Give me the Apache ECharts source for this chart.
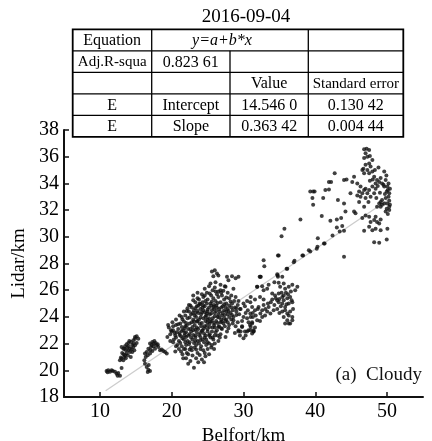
<!DOCTYPE html>
<html><head><meta charset="utf-8">
<script src="https://cdn.jsdelivr.net/npm/echarts@6/dist/echarts.min.js"></script>
<style>html,body{margin:0;padding:0;background:#fff}#c{width:432px;height:441px}</style>
</head><body><div id="c"></div><script>
const titleText = '2016-09-04';
const xName = 'Belfort/km';
const yName = 'Lidar/km';
const panelLabel = '(a)  Cloudy';
const xTicks = [10, 20, 30, 40, 50];
const yTicks = [18, 20, 22, 24, 26, 28, 30, 32, 34, 36, 38];
const fitIntercept = 14.5460;
const fitSlope = 0.36342;
const fitXRange = [10.8, 50.2];

// table cells: [text, colStart, colEnd, italic]
const tableRows = [
  [['Equation', 0, 1], ['y=a+b*x', 1, 3, true], ['', 3, 4]],
  [['Adj.R-squa', 0, 1], ['0.823 61', 1, 2], ['', 2, 3], ['', 3, 4]],
  [['', 0, 1], ['', 1, 2], ['Value', 2, 3], ['Standard error', 3, 4]],
  [['E', 0, 1], ['Intercept', 1, 2], ['14.546 0', 2, 3], ['0.130 42', 3, 4]],
  [['E', 0, 1], ['Slope', 1, 2], ['0.363 42', 2, 3], ['0.004 44', 3, 4]]
];

const clusterA = [[10.93,19.95],[11.16,20.0],[11.4,19.9],[11.63,20.0],[11.07,19.85],[12.1,19.9],[12.33,19.75],[12.56,19.8],[12.8,19.6],[12.47,19.6],[13.02,20.18],[11.8,19.95]];
const clusterB = [[12.79,20.75],[12.93,20.95],[13.02,20.87],[13.26,20.75],[13.4,21.0],[13.49,21.12],[13.26,21.62],[13.02,21.75],[13.4,21.62],[13.63,21.5],[13.72,21.25],[13.96,21.5],[13.72,21.95],[13.96,22.05],[14.19,21.37],[14.19,21.62],[14.33,22.12],[14.42,21.6],[14.51,21.37],[14.65,22.25],[14.65,21.75],[14.79,21.5],[14.89,22.37],[14.89,21.87],[15.12,22.55],[15.12,22.05],[15.35,22.37],[14.89,22.5],[13.6,20.9],[13.1,21.3],[14.0,21.8],[14.3,21.0],
[13.5,21.8],[13.8,21.7],[14.1,22.2],[14.5,21.9],[14.7,22.0],[13.3,21.2],[13.9,21.1]];
const clusterC = [[16.98,22.0],[17.31,22.12],[17.59,22.2],[17.77,22.05],[17.91,21.87],[17.45,21.8],[17.12,21.75],[16.75,21.62],[16.52,21.37],[16.28,21.25],[16.66,21.12],[16.98,21.25],[17.31,21.45],[17.68,21.62],[18.05,21.95],[18.15,21.75],[16.38,21.0],[16.19,20.75],[16.52,20.25],[16.75,20.05],[16.66,19.88],[16.98,19.95],[16.28,20.5],[18.38,21.5],[18.84,21.45],[19.08,21.37],[18.61,21.55],[19.31,21.25],[17.0,21.5],[17.5,22.0],[16.8,20.4],[17.2,21.9]];
const blobOuter = [[24.6,26.1],[25.2,26.3],[26.0,26.2],[26.8,26.0],[27.4,26.3],[25.7,26.0],
[24.2,25.7],[24.9,25.8],[25.5,25.6],[26.3,25.7],[27.0,25.6],[27.8,25.8],[28.3,25.6],
[23.6,25.4],[24.4,25.5],[25.0,25.3],[25.8,25.4],[26.5,25.5],[27.3,25.3],[28.0,25.4],[28.7,25.2],[24.7,25.2],[26.1,25.2],
[23.3,25.1],[23.9,25.0],[24.3,25.1],[25.4,25.0],[26.8,25.1],[27.6,25.0],[28.4,25.0],[29.2,24.9],[25.9,24.9],[27.1,24.8],
[22.8,24.7],[23.5,24.8],[24.0,24.6],[24.6,24.8],[25.2,24.7],[26.3,24.7],[27.8,24.6],[28.8,24.7],[29.6,24.6],[30.2,24.8],
[22.4,24.4],[23.1,24.5],[23.7,24.3],[24.4,24.5],[25.0,24.4],[25.6,24.5],[26.0,24.3],[26.7,24.4],[27.3,24.5],[28.2,24.3],[29.0,24.4],[30.6,24.5],[31.3,24.3],[32.0,24.6],
[21.9,24.1],[22.7,24.2],[23.4,24.0],[24.1,24.2],[24.8,24.1],[25.3,24.2],[26.4,24.0],[27.0,24.1],[27.8,24.2],[28.6,24.0],[29.4,24.2],[30.0,24.0],[31.7,24.1],[32.6,24.0],
[21.5,23.8],[22.2,23.9],[23.0,23.8],[23.6,23.7],[24.4,23.9],[25.0,23.8],[25.7,23.9],[26.2,23.7],[26.9,23.8],[27.5,23.7],[28.3,23.8],[29.8,23.7],[30.5,23.9],[31.2,23.6],[32.3,23.7],
[20.6,23.4],[21.2,23.5],[21.9,23.3],[22.5,23.5],[23.2,23.4],[23.9,23.5],[24.6,23.3],[25.3,23.5],[25.9,23.4],[26.6,23.3],[27.2,23.5],[28.0,23.4],[28.9,23.3],[30.9,23.4],[31.6,23.2],
[19.6,23.2],[20.2,23.0],[20.9,23.1],[21.6,23.0],[22.3,23.1],[23.0,23.0],[23.7,23.1],[24.3,23.0],[25.0,23.1],[25.6,22.9],[26.3,23.0],[27.0,23.1],[27.7,22.9],[29.3,23.0],[30.2,22.9],
[19.8,22.7],[20.5,22.6],[21.1,22.8],[21.8,22.6],[22.5,22.7],[23.3,22.6],[24.0,22.8],[24.7,22.6],[25.3,22.7],[26.0,22.6],[26.8,22.7],[27.5,22.5],
[20.3,22.3],[21.0,22.2],[21.5,22.4],[22.2,22.2],[22.9,22.3],[23.6,22.2],[24.3,22.3],[25.0,22.1],[25.8,22.3],[26.5,22.2],
[20.8,21.9],[21.4,21.8],[22.0,21.9],[22.7,21.7],[23.4,21.9],[24.1,21.8],[24.8,21.9],[25.5,21.7],
[21.3,21.4],[22.1,21.3],[22.8,21.5],[23.6,21.3],[24.4,21.5],[25.2,21.2],
[22.0,20.9],[22.6,20.7],[23.4,20.9],[24.2,20.8],[23.1,20.2],[24.5,20.6]];
const blobCore = [[24.0,24.95],[24.9,25.0],[25.6,25.15],[26.4,25.05],[27.3,24.95],[28.0,24.85],
[23.3,24.65],[24.3,24.7],[25.0,24.55],[25.8,24.75],[26.6,24.6],[27.5,24.75],[28.5,24.5],
[22.9,24.3],[23.6,24.45],[24.6,24.35],[25.5,24.25],[26.2,24.45],[27.1,24.3],[27.9,24.45],[29.0,24.15],
[22.5,23.95],[23.2,24.1],[24.0,23.95],[24.7,24.0],[25.4,23.65],[26.0,24.05],[26.6,23.95],[27.3,23.9],[28.0,24.0],[29.2,23.6],
[21.7,23.65],[22.8,23.6],[23.5,23.65],[24.2,23.55],[25.0,23.6],[25.6,23.7],[26.4,23.55],[27.0,23.65],[27.8,23.6],[28.5,23.5],
[20.2,23.3],[21.4,23.25],[22.1,23.35],[22.9,23.25],[23.5,23.2],[24.1,23.3],[24.9,23.35],[25.7,23.2],[26.5,23.25],[27.4,23.3],
[20.0,22.9],[20.7,22.85],[21.4,22.95],[22.0,22.85],[22.7,22.9],[23.5,22.85],[24.2,22.95],[25.0,22.9],[26.1,22.85],[26.7,22.45],
[20.6,22.45],[21.3,22.55],[22.0,22.5],[22.7,22.45],[23.3,22.45],[24.0,22.5],[24.6,22.45],[25.4,22.45],
[21.2,22.05],[21.9,22.1],[22.4,21.95],[23.1,22.05],[23.8,22.0],[24.5,22.1],[25.2,22.0]];
const blobFill = [[23.0,25.25],[23.8,25.3],[24.6,25.6],[25.3,25.75],[26.1,25.9],[26.9,25.8],[27.6,25.45],[28.2,25.15],
[22.6,24.85],[23.7,24.85],[24.4,24.85],[25.5,24.85],[26.2,24.85],[26.9,24.7],[27.6,24.4],[28.3,24.7],[29.0,24.65],
[22.1,24.45],[22.2,24.65],[23.3,24.3],[24.2,24.35],[24.9,24.25],[25.9,24.6],[26.5,24.2],[27.4,24.15],[28.4,24.15],
[21.4,24.0],[22.0,23.55],[23.1,23.65],[23.8,23.8],[24.7,23.7],[25.2,23.9],[25.9,23.55],[26.8,23.6],[27.6,23.8],[28.6,23.75],
[20.9,23.45],[21.8,23.15],[22.6,23.1],[23.3,23.05],[24.5,23.15],[25.3,23.25],[26.0,23.2],[26.9,23.15],[27.9,23.15],
[20.4,22.8],[21.1,22.65],[21.8,22.8],[22.3,22.6],[23.0,22.65],[23.8,22.65],[24.5,22.75],[25.2,22.6],[25.7,22.45],[26.4,22.6],
[21.7,22.3],[22.5,22.1],[23.3,22.2],[24.0,22.25],[24.8,22.3],[22.5,21.55],[23.2,21.7],[24.0,21.6],[21.7,21.6]];
const blobLower = [[20.2,22.1],[20.6,21.8],[21.0,21.6],[21.5,21.2],[21.9,21.6],[22.3,21.2],[22.9,21.1],[23.4,21.55],[23.9,21.15],[24.6,21.3],[25.0,21.6],[25.6,21.9],[26.0,22.0],[25.9,21.6],[24.7,21.05],[23.7,20.6],[22.3,20.5],[21.6,20.9],[20.5,21.4],[19.8,22.2],[19.4,22.5],[20.1,23.6],[20.6,23.8],[21.1,24.1],[21.7,24.4],[22.4,24.9],[23.0,25.6],[23.6,25.8],
[28.9,25.5],[29.3,25.2],[30.0,25.0],[30.5,25.2],[31.0,25.5],[31.9,26.25],[32.8,26.0],[33.5,26.4],[36.1,27.6],[37.1,28.2],[38.3,28.6],[34.8,28.6]];
const blobTop = [[26.0,27.5],[26.3,27.25],[26.5,27.1],[25.6,27.4],[25.8,27.05],[25.4,26.5],[26.1,26.6],[27.7,27.0],[28.4,27.05],[28.9,26.9],[29.3,27.0],[27.9,26.75],[28.6,26.1],[26.8,26.4],[27.5,26.25],[27.2,25.95],[26.5,25.9],
[29.5,24.6],[30.3,24.3],[29.8,23.3],[30.7,23.6],[31.0,24.0],[28.8,22.8],[29.5,22.6],[30.0,22.4],[29.3,22.9],[30.7,23.0],[31.4,22.9],[30.3,22.6],[19.5,23.4],[19.9,23.0]];
const clusterE = [[32.25,27.0],[34.7,27.2],[31.9,26.25],[32.6,26.3],[33.3,26.1],
[34.3,26.6],[34.9,26.55],[35.6,26.5],[35.1,26.25],[35.8,26.1],[36.3,26.25],[36.8,26.4],[37.2,26.0],[37.5,26.25],
[34.0,25.75],[34.4,25.6],[34.9,25.75],[35.4,25.5],[35.6,25.6],[36.1,25.4],[36.5,25.5],[36.8,25.1],[36.3,25.0],[35.8,24.75],[35.4,25.0],[34.9,25.1],[34.7,25.25],
[33.8,25.1],[33.5,24.75],[34.2,24.5],[34.7,24.6],
[32.1,24.75],[32.6,24.5],[33.05,24.6],[32.8,24.9],[32.35,24.25],[33.3,24.4],[33.75,24.25],
[35.4,24.4],[35.8,24.5],[36.1,24.25],[36.5,24.4],[36.3,24.1],[35.6,24.0],[36.1,23.75],[36.5,23.5],[36.8,23.75],[35.8,23.5],
[30.95,25.1],[31.2,24.75],[30.95,24.25],[31.3,24.0],[31.2,23.5],[30.95,23.0],[31.4,22.9],[31.9,23.75],
[36.3,23.5],[36.8,24.0],[31.0,23.25],[31.4,23.0],[30.5,22.9],[31.2,22.75],[29.6,22.9],[29.8,23.25],[32.4,27.0],[34.75,27.1],
[34.5,25.4],[35.0,25.35],[35.3,25.8],[35.9,25.8],[36.2,25.7],[36.6,25.9],[35.2,24.8],[35.6,25.25],[36.0,24.95],[34.3,24.9],[34.0,25.3],[35.0,24.3],[36.9,24.6],[36.7,25.25],[33.4,25.0],[32.8,25.3],[32.3,25.5],[31.6,25.3],[31.6,24.5],[33.0,24.1]];
const midScatter = [[37.93,31.3],[35.7,30.6],[35.3,30.05],[34.9,28.6],[32.8,28.25],[32.9,27.8],[32.35,27.0],[34.8,27.0],[35.4,27.0],
[38.2,28.6],[37.0,28.1],[36.0,27.6],[39.1,29.0],[40.3,29.25],[41.3,29.5],[42.4,30.1]];
const clusterF = [[46.8,36.56],[47.15,36.6],[47.5,36.5],[47.0,36.26],[46.8,35.9],[47.25,36.0],[47.6,36.06],[47.5,35.5],[47.0,35.4],[46.7,35.1],[47.25,35.0],[47.7,35.26],[47.95,34.9],[47.5,34.76],[46.8,34.76],[46.55,35.0],[47.95,35.76],
[48.2,34.5],[48.6,34.26],[48.4,34.0],[48.9,34.1],[49.1,34.4],[49.3,34.0],[49.8,34.26],[49.6,33.76],[50.04,33.76],[50.1,33.5],[49.95,33.4],[50.3,33.26],[50.2,33.0],[49.8,32.9],[49.3,32.76],[49.1,32.6],[48.9,32.5],[49.6,32.5],[50.04,32.5],[50.3,32.26],[50.3,32.0],[49.95,32.1],[49.8,31.9],[49.3,32.4],[49.1,32.26],[48.6,32.26],
[45.85,34.0],[46.3,33.76],[46.1,33.4],[46.55,33.26],[46.8,33.5],[47.0,33.6],[46.3,33.0],[45.85,33.1],[47.25,33.26],[47.0,32.9],[47.5,33.5],[47.7,33.0],[48.2,33.26],[47.95,33.76],[48.4,33.6],
[44.0,34.26],[44.35,34.3],[45.4,34.5],[45.15,34.1],[42.7,34.76],[41.9,34.1],[42.2,34.1],[41.4,33.5],[41.9,33.55],
[39.3,33.4],[39.7,33.4],[39.9,33.4],[39.6,32.9],[39.7,32.4],
[41.1,32.9],[43.15,32.76],[44.0,32.5],[44.2,31.9],[45.4,31.9],[45.6,31.76],[46.8,32.26],[46.1,32.6],[44.9,33.26],
[40.9,31.56],[42.1,31.2],[43.0,31.3],[43.6,31.4],[43.0,30.7],[43.75,30.8],[44.0,30.46],[43.4,30.4],
[46.55,31.4],[47.0,31.6],[47.5,31.5],[47.7,31.1],[48.2,31.26],[48.4,31.5],[48.6,31.1],[48.9,31.0],[49.1,31.3],[47.5,30.76],[48.4,30.6],[49.1,30.5],[47.95,30.5],
[46.8,30.46],[50.04,30.6],[40.35,29.9],[41.2,29.5],[40.2,29.1],[44.0,28.5],[48.2,29.6],[48.9,29.56],[49.95,29.8],[39.3,28.9],
[50.2,34.0],[50.4,33.6],[50.3,32.7],[50.4,32.4],[50.1,31.7],[49.7,33.2],[49.5,33.9],[49.9,34.6],[49.6,34.9],[48.8,35.2],[48.3,35.0],[48.7,33.8],[49.0,33.3],[48.5,32.9],[47.4,32.6],[47.6,34.2],[48.0,34.3]];

const allPoints = [].concat(clusterA, clusterB, clusterC, blobOuter, blobCore, blobFill, blobLower, blobTop, clusterE, midScatter, clusterF);
const fitLine = fitXRange.map(x => [x, fitIntercept + fitSlope * x]);

const FONT = 'Liberation Serif';
const colX = [72.7, 151.7, 230, 308.3, 403.3];
const rowTop = 29.3, rowH = 21.5;
const graphic = [];
const nRows = tableRows.length;
graphic.push({type: 'rect', shape: {x: colX[0], y: rowTop, width: colX[4] - colX[0], height: rowH * nRows}, style: {fill: 'none', stroke: '#000', lineWidth: 1.8}});
for (let r = 1; r < nRows; r++) {
  graphic.push({type: 'line', shape: {x1: colX[0], y1: rowTop + r * rowH, x2: colX[4], y2: rowTop + r * rowH}, style: {stroke: '#000', lineWidth: 1.3}});
}
tableRows.forEach((cells, r) => {
  const y0 = rowTop + r * rowH;
  cells.forEach((cell, i) => {
    const [text, c0, c1, italic] = cell;
    if (i > 0) {
      graphic.push({type: 'line', shape: {x1: colX[c0], y1: y0, x2: colX[c0], y2: y0 + rowH}, style: {stroke: '#000', lineWidth: 1.3}});
    }
    if (text) {
      const fs = (text.length > 9) ? 15 : 16;
      graphic.push({type: 'text', x: (colX[c0] + colX[c1]) / 2 - (italic ? 8 : 0), y: y0 + rowH / 2 + 1,
        style: {text: text, fontFamily: FONT, fontSize: fs, fontStyle: italic ? 'italic' : 'normal', fill: '#000', align: 'center', verticalAlign: 'middle'}});
    }
  });
});
graphic.push({type: 'text', x: 422, y: 375, style: {text: panelLabel, fontFamily: FONT, fontSize: 19, fill: '#111', align: 'right', verticalAlign: 'middle'}});

const chart = echarts.init(document.getElementById('c'), null, {renderer: 'canvas'});
chart.setOption({
  animation: false,
  backgroundColor: '#fff',
  title: {text: titleText, left: 241, top: 3, textAlign: 'center', textStyle: {fontFamily: FONT, fontSize: 19, fontWeight: 'normal', color: '#000'}},
  grid: {left: 64, right: 9, top: 130, bottom: 44, containLabel: false, outerBoundsMode: 'none'},
  xAxis: {
    type: 'value', min: 5, max: 55,
    name: xName, nameLocation: 'middle', nameGap: 21,
    nameTextStyle: {fontFamily: FONT, fontSize: 19, color: '#000'},
    axisLine: {show: true, lineStyle: {color: '#111', width: 2}},
    axisTick: {show: true, inside: true, length: 5, customValues: xTicks, lineStyle: {color: '#111', width: 1.5}},
    axisLabel: {customValues: xTicks, fontFamily: FONT, fontSize: 20, color: '#000', margin: 5},
    splitLine: {show: false}
  },
  yAxis: {
    type: 'value', min: 18, max: 38, interval: 2,
    name: yName, nameLocation: 'middle', nameGap: 31, nameRotate: 90,
    nameTextStyle: {fontFamily: FONT, fontSize: 19, color: '#000'},
    axisLine: {show: true, lineStyle: {color: '#111', width: 2}},
    axisTick: {show: true, inside: true, length: 5, lineStyle: {color: '#111', width: 1.5}},
    axisLabel: {fontFamily: FONT, fontSize: 20, color: '#000', margin: 5},
    splitLine: {show: false}
  },
  graphic: graphic,
  series: [
    {type: 'line', data: fitLine, symbol: 'none', lineStyle: {color: '#cccccc', width: 1.3}, z: 1, silent: true},
    {type: 'scatter', data: allPoints, symbol: 'circle', symbolSize: 4, itemStyle: {color: '#111'}, z: 2, silent: true}
  ]
});
</script></body></html>
